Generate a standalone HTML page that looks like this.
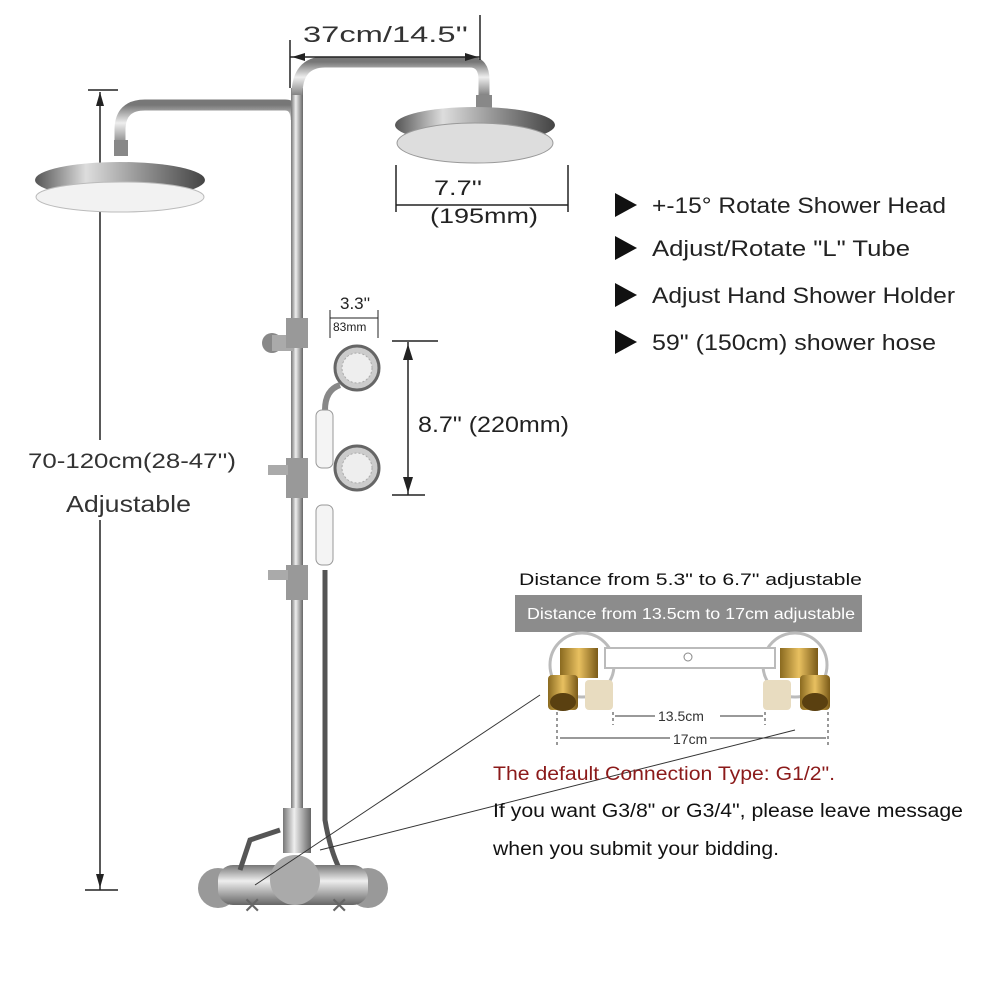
<!DOCTYPE html>
<html><head><meta charset="utf-8"><style>
html,body{margin:0;padding:0;background:#fff}
svg{display:block}
text{font-family:"Liberation Sans",sans-serif}
</style></head><body>
<svg width="1000" height="1000" viewBox="0 0 1000 1000" xmlns="http://www.w3.org/2000/svg">
<defs>
<linearGradient id="pipe" x1="0" x2="1" y1="0" y2="0"><stop offset="0" stop-color="#777"/><stop offset="0.4" stop-color="#eee"/><stop offset="1" stop-color="#666"/></linearGradient>
<linearGradient id="pipeh" x1="0" x2="0" y1="0" y2="1"><stop offset="0" stop-color="#777"/><stop offset="0.4" stop-color="#eee"/><stop offset="1" stop-color="#666"/></linearGradient>
<linearGradient id="head" x1="0" x2="1"><stop offset="0" stop-color="#555"/><stop offset="0.3" stop-color="#ddd"/><stop offset="0.6" stop-color="#999"/><stop offset="1" stop-color="#444"/></linearGradient>
<linearGradient id="brass" x1="0" x2="1"><stop offset="0" stop-color="#8a6a20"/><stop offset="0.5" stop-color="#e8c060"/><stop offset="1" stop-color="#7a5a18"/></linearGradient>
</defs>

<line x1="100" y1="92" x2="100" y2="890" stroke="#222" stroke-width="1.5"/>
<line x1="88" y1="90" x2="118" y2="90" stroke="#222" stroke-width="1.5"/>
<line x1="85" y1="890" x2="118" y2="890" stroke="#222" stroke-width="1.5"/>
<polygon points="100,92 96,106 104,106" fill="#222"/>
<polygon points="100,888 96,874 104,874" fill="#222"/>
<rect x="20" y="440" width="225" height="80" fill="#fff"/>
<text x="28" y="468" font-size="21" fill="#333" textLength="208" lengthAdjust="spacingAndGlyphs">70-120cm(28-47'')</text>
<text x="66" y="512" font-size="23" fill="#333" textLength="125" lengthAdjust="spacingAndGlyphs">Adjustable</text>

<path d="M120 150 L120 130 Q120 105 145 105 L285 105 Q296 105 296 120" fill="none" stroke="url(#pipeh)" stroke-width="11"/>
<rect x="114" y="140" width="14" height="16" fill="#888"/>
<ellipse cx="120" cy="180" rx="85" ry="18" fill="url(#head)"/>
<ellipse cx="120" cy="197" rx="84" ry="15" fill="#f2f2f2" stroke="#bbb"/>

<rect x="291" y="88" width="12" height="740" fill="url(#pipe)"/>
<path d="M297 95 Q297 62 325 62 L470 62 Q484 62 484 80 L484 100" fill="none" stroke="url(#pipeh)" stroke-width="11"/>
<rect x="476" y="95" width="16" height="15" fill="#888"/>
<ellipse cx="475" cy="125" rx="80" ry="18" fill="url(#head)"/>
<ellipse cx="475" cy="143" rx="78" ry="20" fill="#ddd" stroke="#999"/>

<text x="303" y="42" font-size="22" fill="#333" textLength="165" lengthAdjust="spacingAndGlyphs">37cm/14.5''</text>
<line x1="290" y1="57" x2="480" y2="57" stroke="#222" stroke-width="1.5"/>
<line x1="290" y1="40" x2="290" y2="88" stroke="#222" stroke-width="1.5"/>
<line x1="480" y1="15" x2="480" y2="60" stroke="#222" stroke-width="1.5"/>
<polygon points="292,57 305,53 305,61" fill="#222"/>
<polygon points="478,57 465,53 465,61" fill="#222"/>

<text x="434" y="195" font-size="21" fill="#222" textLength="48" lengthAdjust="spacingAndGlyphs">7.7''</text>
<text x="430" y="223" font-size="21" fill="#222" textLength="108" lengthAdjust="spacingAndGlyphs">(195mm)</text>
<line x1="396" y1="205" x2="568" y2="205" stroke="#222" stroke-width="1.5"/>
<line x1="396" y1="165" x2="396" y2="212" stroke="#222" stroke-width="1.5"/>
<line x1="568" y1="165" x2="568" y2="212" stroke="#222" stroke-width="1.5"/>

<g font-size="22" fill="#222">
<polygon points="615,193 615,217 637,205" fill="#111"/><text x="652" y="213" textLength="294" lengthAdjust="spacingAndGlyphs">+-15° Rotate Shower Head</text>
<polygon points="615,236 615,260 637,248" fill="#111"/><text x="652" y="256" textLength="258" lengthAdjust="spacingAndGlyphs">Adjust/Rotate "L" Tube</text>
<polygon points="615,283 615,307 637,295" fill="#111"/><text x="652" y="303" textLength="303" lengthAdjust="spacingAndGlyphs">Adjust Hand Shower Holder</text>
<polygon points="615,330 615,354 637,342" fill="#111"/><text x="652" y="350" textLength="284" lengthAdjust="spacingAndGlyphs">59" (150cm) shower hose</text>
</g>

<text x="340" y="309" font-size="17" fill="#222">3.3''</text>
<text x="333" y="331" font-size="12" fill="#222">83mm</text>
<line x1="330" y1="318" x2="378" y2="318" stroke="#222"/>
<line x1="330" y1="310" x2="330" y2="338" stroke="#222"/>
<line x1="378" y1="310" x2="378" y2="338" stroke="#222"/>
<circle cx="357" cy="368" r="22" fill="#ccc" stroke="#666" stroke-width="3"/>
<circle cx="357" cy="368" r="15" fill="#eee" stroke="#aaa" stroke-dasharray="2 2"/>
<path d="M340 385 Q325 390 325 410" stroke="#888" stroke-width="6" fill="none"/>
<rect x="316" y="410" width="17" height="58" rx="6" fill="#f4f4f4" stroke="#999"/>
<circle cx="357" cy="468" r="22" fill="#ccc" stroke="#666" stroke-width="3"/>
<circle cx="357" cy="468" r="15" fill="#eee" stroke="#aaa" stroke-dasharray="2 2"/>
<rect x="316" y="505" width="17" height="60" rx="6" fill="#f4f4f4" stroke="#999"/>
<path d="M325 570 L325 820 Q330 850 340 870" stroke="#555" stroke-width="5" fill="none"/>
<line x1="408" y1="342" x2="408" y2="495" stroke="#222" stroke-width="1.5"/>
<line x1="392" y1="341" x2="438" y2="341" stroke="#222" stroke-width="1.5"/>
<line x1="392" y1="495" x2="425" y2="495" stroke="#222" stroke-width="1.5"/>
<polygon points="408,344 403,360 413,360" fill="#222"/>
<polygon points="408,493 403,477 413,477" fill="#222"/>
<text x="418" y="432" font-size="22" fill="#222" textLength="151" lengthAdjust="spacingAndGlyphs">8.7" (220mm)</text>

<circle cx="272" cy="343" r="10" fill="#888"/><rect x="272" y="335" width="22" height="16" fill="#aaa"/>
<rect x="286" y="318" width="22" height="30" fill="#999"/>
<rect x="286" y="458" width="22" height="40" fill="#999"/><rect x="268" y="465" width="20" height="10" fill="#aaa"/>
<rect x="286" y="565" width="22" height="35" fill="#999"/><rect x="268" y="570" width="20" height="10" fill="#aaa"/>

<rect x="283" y="808" width="28" height="45" fill="url(#pipe)"/>
<circle cx="218" cy="888" r="20" fill="#999"/>
<circle cx="368" cy="888" r="20" fill="#999"/>
<rect x="218" y="865" width="150" height="40" rx="15" fill="url(#pipeh)"/>
<circle cx="295" cy="880" r="25" fill="#aaa"/>
<path d="M240 870 L250 840 L280 830" stroke="#555" stroke-width="5" fill="none"/>
<text x="243" y="913" font-size="22" fill="#666">✕</text>
<text x="330" y="913" font-size="22" fill="#666">✕</text>

<line x1="255" y1="885" x2="540" y2="695" stroke="#333"/>
<line x1="320" y1="850" x2="795" y2="730" stroke="#333"/>

<text x="519" y="585" font-size="17" fill="#111" textLength="343" lengthAdjust="spacingAndGlyphs">Distance from 5.3" to 6.7" adjustable</text>
<rect x="515" y="595" width="347" height="37" fill="#8c8c8c"/>
<text x="527" y="619" font-size="16" fill="#fff" textLength="328" lengthAdjust="spacingAndGlyphs">Distance from 13.5cm to 17cm adjustable</text>
<circle cx="582" cy="665" r="32" fill="none" stroke="#bbb" stroke-width="3"/>
<circle cx="795" cy="665" r="32" fill="none" stroke="#bbb" stroke-width="3"/>
<rect x="605" y="648" width="170" height="20" fill="#fff" stroke="#bbb" stroke-width="2"/>
<circle cx="688" cy="657" r="4" fill="none" stroke="#888"/>
<rect x="560" y="648" width="38" height="30" fill="url(#brass)"/>
<rect x="548" y="675" width="30" height="35" rx="4" fill="url(#brass)"/>
<ellipse cx="563" cy="702" rx="13" ry="9" fill="#5a4010"/>
<rect x="585" y="680" width="28" height="30" rx="4" fill="#e8dcc0"/>
<rect x="780" y="648" width="38" height="30" fill="url(#brass)"/>
<rect x="800" y="675" width="30" height="35" rx="4" fill="url(#brass)"/>
<ellipse cx="815" cy="702" rx="13" ry="9" fill="#5a4010"/>
<rect x="763" y="680" width="28" height="30" rx="4" fill="#e8dcc0"/>
<line x1="557" y1="712" x2="557" y2="748" stroke="#333" stroke-dasharray="3 3"/>
<line x1="828" y1="712" x2="828" y2="748" stroke="#333" stroke-dasharray="3 3"/>
<line x1="613" y1="712" x2="613" y2="725" stroke="#333" stroke-dasharray="3 3"/>
<line x1="765" y1="712" x2="765" y2="725" stroke="#333" stroke-dasharray="3 3"/>
<line x1="615" y1="716" x2="763" y2="716" stroke="#333"/>
<rect x="655" y="706" width="65" height="18" fill="#fff"/>
<text x="658" y="721" font-size="14" fill="#333">13.5cm</text>
<line x1="560" y1="738" x2="826" y2="738" stroke="#333"/>
<rect x="670" y="729" width="40" height="18" fill="#fff"/>
<text x="673" y="744" font-size="14" fill="#333">17cm</text>

<text x="493" y="780" font-size="19" fill="#8b1a1a" textLength="342" lengthAdjust="spacingAndGlyphs">The default Connection Type: G1/2".</text>
<text x="493" y="817" font-size="19" fill="#111" textLength="470" lengthAdjust="spacingAndGlyphs">If you want G3/8" or G3/4", please leave message</text>
<text x="493" y="855" font-size="19" fill="#111" textLength="286" lengthAdjust="spacingAndGlyphs">when you submit your bidding.</text>
</svg>
</body></html>
